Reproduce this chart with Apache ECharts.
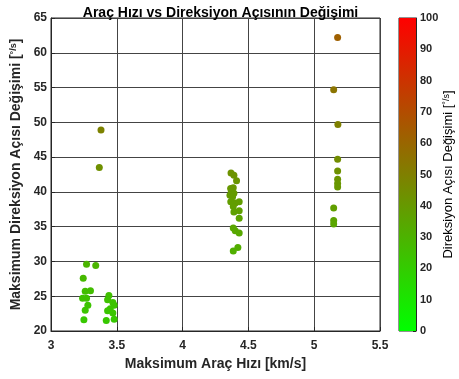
<!DOCTYPE html>
<html><head><meta charset="utf-8">
<script src="https://cdn.jsdelivr.net/npm/echarts@6/dist/echarts.min.js"></script>
<style>html,body{margin:0;padding:0;background:#fff}#c{width:459px;height:379px}</style>
</head><body><div id="c"></div>
<script>
// Maksimum Araç Hızı [km/s]
const speeds = [
  3.27,3.34,3.245,3.26,3.30,3.24,3.27,3.28,3.26,3.25,3.44,3.43,3.47,3.48,3.45,3.43,3.47,3.42,3.48,3.38,3.367,
  4.368,4.39,4.41,4.365,4.385,4.37,4.39,4.36,4.38,4.366,4.40,4.43,4.385,4.39,4.43,4.43,4.385,4.40,4.43,4.42,4.385,
  5.178,5.148,5.18,5.178,5.178,5.178,5.178,5.178,5.148,5.148,5.148
];
// Maksimum Direksiyon Açısı Değişimi [°/s]
const angles = [
  29.6,29.4,27.6,25.7,25.8,24.7,24.7,23.7,23.0,21.6,25.1,24.5,24.1,23.7,23.2,22.9,22.6,21.5,21.7,48.9,43.5,
  42.7,42.4,41.6,40.5,40.6,40.0,39.8,39.5,39.3,38.6,38.4,38.6,37.9,37.1,37.3,36.2,34.8,34.4,34.1,32.0,31.5,
  62.2,54.7,49.7,44.7,43.0,41.8,41.2,40.7,37.7,35.9,35.4
];
const xTicks = {min: 3, max: 5.5, step: 0.5};
const yTicks = {min: 20, max: 65, step: 5};
const cbTicks = {min: 0, max: 100, step: 10};
const cbCategories = [''];
const cbValues = [100];

const points = speeds.map((s, i) => [s, angles[i]]);
const txt = '#262626';
const font = 'Liberation Sans';

const chart = echarts.init(document.getElementById('c'), null, {renderer: 'canvas'});
chart.setOption({
  animation: false,
  backgroundColor: '#fff',
  title: {
    text: 'Araç Hızı vs Direksiyon Açısının Değişimi',
    left: 215.5, top: 1, textAlign: 'center',
    textStyle: {fontFamily: font, fontWeight: 'bold', fontSize: 14, color: '#000'}
  },
  grid: [
    {left: 51, top: 18, width: 329, height: 313, show: true, borderColor: txt, borderWidth: 1, backgroundColor: 'transparent'},
    {left: 399, top: 18, width: 17, height: 313, show: true, borderColor: txt, borderWidth: 1, backgroundColor: 'transparent'}
  ],
  visualMap: {
    show: false, type: 'continuous', seriesIndex: 0, dimension: 1,
    min: cbTicks.min, max: cbTicks.max,
    inRange: {color: ['#00ff00', '#ff0000']}
  },
  xAxis: [
    {
      gridIndex: 0, type: 'value', min: xTicks.min, max: xTicks.max, interval: xTicks.step,
      name: 'Maksimum Araç Hızı [km/s]', nameLocation: 'middle', nameGap: 26,
      nameTextStyle: {fontFamily: font, fontWeight: 'bold', fontSize: 14, color: txt},
      axisLine: {show: true, lineStyle: {color: txt, width: 1}},
      axisTick: {show: true, inside: true, length: 4, lineStyle: {color: txt}},
      axisLabel: {fontFamily: font, fontWeight: 'bold', fontSize: 12, color: txt, margin: 9},
      splitLine: {show: true, lineStyle: {color: '#444', width: 1}}
    },
    {
      gridIndex: 1, type: 'category', data: cbCategories, show: false
    }
  ],
  yAxis: [
    {
      gridIndex: 0, type: 'value', min: yTicks.min, max: yTicks.max, interval: yTicks.step,
      name: 'Maksimum Direksiyon Açısı Değişimi [{s|°/s}]', nameLocation: 'middle', nameGap: 25, nameRotate: 90,
      nameTextStyle: {fontFamily: font, fontWeight: 'bold', fontSize: 14, color: txt,
        rich: {s: {fontFamily: font, fontWeight: 'bold', fontSize: 9, color: txt, verticalAlign: 'top'}}},
      axisLine: {show: true, lineStyle: {color: txt, width: 1}},
      axisTick: {show: true, inside: true, length: 4, lineStyle: {color: txt}},
      axisLabel: {fontFamily: font, fontWeight: 'bold', fontSize: 12, color: txt, margin: 4},
      splitLine: {show: true, lineStyle: {color: '#444', width: 1}}
    },
    {
      gridIndex: 1, type: 'value', position: 'right', min: cbTicks.min, max: cbTicks.max, interval: cbTicks.step,
      name: 'Direksiyon Açısı Değişimi [{s|°/s}]', nameLocation: 'middle', nameGap: 24, nameRotate: 90,
      nameTextStyle: {fontFamily: font, fontSize: 13, color: '#000',
        rich: {s: {fontFamily: font, fontSize: 9, color: '#000', verticalAlign: 'top'}}},
      axisLine: {show: true, lineStyle: {color: txt, width: 1}},
      axisTick: {show: true, inside: true, length: 3, lineStyle: {color: txt}},
      axisLabel: {fontFamily: font, fontWeight: 'bold', fontSize: 11, color: txt, margin: 4},
      splitLine: {show: false}
    }
  ],
  series: [
    {
      type: 'scatter', xAxisIndex: 0, yAxisIndex: 0, data: points,
      symbol: 'circle', symbolSize: 7, itemStyle: {opacity: 1}
    },
    {
      type: 'bar', xAxisIndex: 1, yAxisIndex: 1, data: cbValues, barWidth: '100%',
      silent: true,
      itemStyle: {
        color: new echarts.graphic.LinearGradient(0, 0, 0, 1, [
          {offset: 0, color: '#ff0000'}, {offset: 1, color: '#00ff00'}
        ])
      }
    }
  ]
});
</script>
</body></html>
